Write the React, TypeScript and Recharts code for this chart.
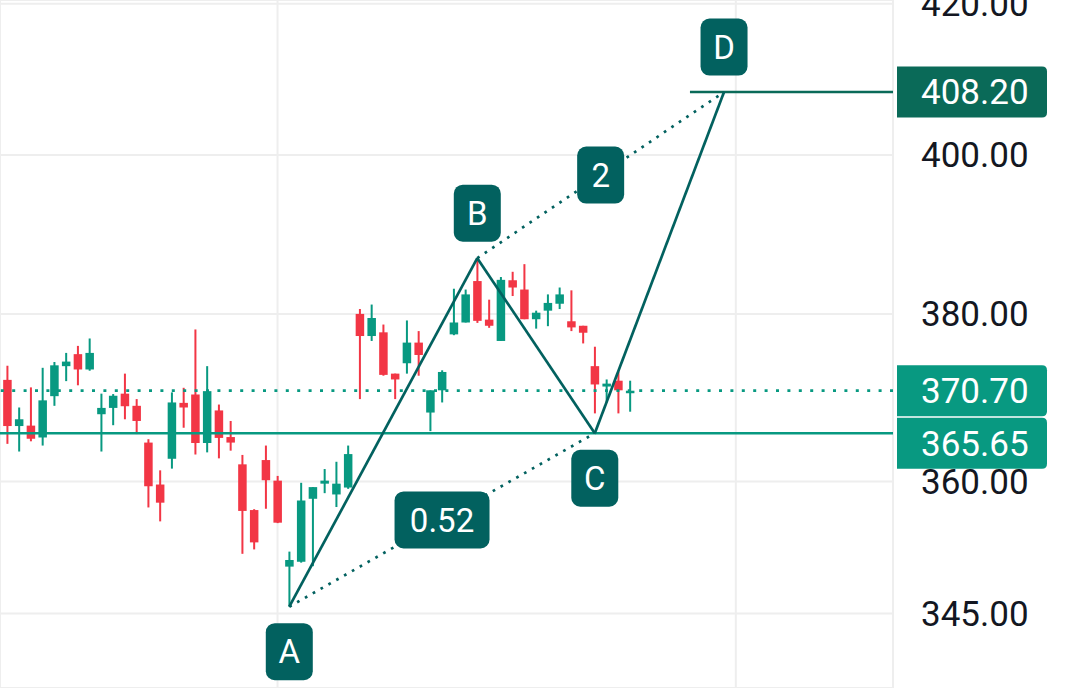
import React from 'react';
import { ComposedChart, Bar, XAxis, YAxis, CartesianGrid, ReferenceLine, ReferenceDot } from 'recharts';

// OHLC values per candle (index 0..53)
const opens = [
  372.0, 366.5, 366.55, 365.15, 370.05, 373.65, 375.1, 373.25, 367.9, 368.65,
  370.35, 368.9, 364.55, 359.65, 362.65, 369.25, 370.25, 364.5, 368.35, 365.2,
  362.0, 356.7, 362.5, 360.1, 350.25, 350.8, 358.0, 359.75, 358.5, 359.3,
  380.0, 377.3, 377.75, 372.75, 374.0, 376.5, 368.1, 370.75, 377.5, 378.95,
  384.05, 379.3, 376.7, 384.15, 383.0, 379.35, 380.4, 381.25, 379.1, 378.55,
  373.65, 371.2, 371.9, 370.55,
];
const highs = [
  373.7, 368.7, 371.1, 373.45, 374.15, 375.25, 376.1, 377.0, 370.35, 370.3,
  372.75, 369.7, 364.95, 361.3, 370.5, 371.05, 378.1, 373.65, 369.05, 367.1,
  363.1, 356.8, 364.2, 360.65, 351.95, 359.85, 359.35, 361.45, 362.3, 364.2,
  380.6, 381.15, 378.7, 372.75, 379.2, 377.9, 370.75, 373.15, 383.1, 383.0,
  386.9, 381.75, 384.55, 385.2, 386.15, 380.4, 382.4, 383.25, 382.9, 378.55,
  376.0, 372.05, 373.0, 371.9,
];
const lows = [
  364.4, 363.5, 364.7, 364.2, 368.9, 371.85, 371.35, 373.1, 363.5, 366.6,
  367.3, 365.55, 357.0, 355.4, 361.5, 366.3, 363.15, 363.4, 362.7, 363.6,
  351.7, 352.2, 356.85, 355.2, 345.75, 350.7, 350.3, 358.65, 357.05, 359.15,
  369.7, 376.7, 372.5, 369.7, 372.75, 372.5, 365.9, 369.3, 377.4, 378.95,
  378.9, 378.3, 376.7, 382.2, 379.35, 378.2, 378.5, 380.6, 377.9, 376.4,
  368.0, 369.3, 368.0, 368.2,
];
const closes = [
  366.5, 367.3, 365.0, 369.55, 373.75, 374.2, 373.25, 375.25, 368.65, 370.1,
  368.85, 367.1, 359.45, 357.55, 369.3, 368.7, 364.5, 370.65, 365.1, 364.55,
  356.6, 353.0, 360.15, 355.25, 351.0, 357.8, 359.35, 360.1, 359.75, 363.2,
  377.3, 379.5, 372.6, 372.05, 376.5, 375.0, 370.75, 372.95, 378.95, 382.4,
  379.15, 378.55, 384.2, 383.25, 379.35, 380.15, 381.35, 382.4, 378.35, 377.7,
  371.45, 371.55, 370.75, 370.7,
];

// ABCD pattern
const patternLabels = ['A', 'B', 'C', 'D'];
const patternIndex = [24, 40, 50, 61];
const patternPrice = [345.75, 386.9, 365.65, 408.2];
const ratioLabels = ['0.52', '2'];

const yTicks = [345, 360, 380, 400, 420];
const gridIndex = [23, 62];
const lastPrice = 370.7;
const cLevel = 365.65;
const dLevel = 408.2;
const dLevelStart = 58.1;

const UP = '#089981';
const DOWN = '#F23645';
const PAT = '#02615F';
const DCOL = '#0A6A58';
const FONT = 'Roboto';
const FS = 33;
const AXFS = 35;

const data = opens.map((o, i) => ({
  i,
  open: o,
  high: highs[i],
  low: lows[i],
  close: closes[i],
  range: [lows[i], highs[i]],
}));

const Candle = (props: any) => {
  const { x, y, width, height, payload } = props;
  if (x == null || y == null || payload == null) return null;
  const { open, close, high, low } = payload;
  const top = Math.min(y, y + height);
  const h = Math.abs(height);
  const lh = Math.log(high);
  const ll = Math.log(low);
  const py = (p: number) => top + (h * (lh - Math.log(p))) / (lh - ll || 1);
  const color = close >= open ? UP : DOWN;
  const cx = x + width / 2;
  const bTop = py(Math.max(open, close));
  const bBot = py(Math.min(open, close));
  const bw = 8.5;
  return (
    <g>
      <rect x={cx - 1} y={top} width={2} height={Math.max(h, 1)} fill={color} />
      <rect x={cx - bw / 2} y={bTop} width={bw} height={Math.max(bBot - bTop, 2.5)} fill={color} />
    </g>
  );
};

const boxShape = (label: string, dir: number) => (props: any) => {
  const { cx, cy } = props;
  if (cx == null || cy == null) return null;
  const w = Math.max(47, 17 + 19.5 * label.length);
  const h = 57;
  const bcy = cy + dir * 45;
  return (
    <g>
      <rect x={cx - w / 2} y={bcy - h / 2} width={w} height={h} rx={9} ry={9} fill={PAT} />
      <text x={cx} y={bcy} dy="0.355em" textAnchor="middle" fill="#ffffff" fontSize={FS} fontFamily={FONT}>
        {label}
      </text>
    </g>
  );
};

const ratioShape = (label: string) => boxShape(label, 0);

const priceTag = (text: string, color: string, shift: number) => (props: any) => {
  const vb = props.viewBox || {};
  const x0 = (vb.x ?? 0) + (vb.width ?? 0) + 4;
  const cy = (vb.y ?? 0) + shift;
  const w = 150;
  const h = 51;
  const r = 5;
  const t = cy - h / 2;
  const d = `M${x0},${t} H${x0 + w - r} Q${x0 + w},${t} ${x0 + w},${t + r} V${t + h - r} Q${x0 + w},${t + h} ${x0 + w - r},${t + h} H${x0} Z`;
  return (
    <g>
      <path d={d} fill={color} />
      <text x={x0 + 24} y={cy} dy="0.355em" fill="#ffffff" fontSize={AXFS} fontFamily={FONT}>
        {text}
      </text>
    </g>
  );
};

const seg = (a: number, b: number) => [
  { x: patternIndex[a], y: patternPrice[a] },
  { x: patternIndex[b], y: patternPrice[b] },
];

const mid = (a: number, b: number) => ({
  x: (patternIndex[a] + patternIndex[b]) / 2,
  y: Math.sqrt(patternPrice[a] * patternPrice[b]),
});

export default function App() {
  const mAC = mid(0, 2);
  const mBD = mid(1, 3);
  return (
    <div style={{ position: 'absolute', left: 0, top: 0, background: '#fff' }}>
      <ComposedChart
        width={1080}
        height={688}
        data={data}
        margin={{ top: 0, right: 0, bottom: 0, left: 0 }}
        style={{ fontFamily: FONT }}
      >
        <CartesianGrid stroke="#EEEEEE" strokeWidth={2} />
        <XAxis dataKey="i" type="number" domain={[-0.621, 75.38]} allowDataOverflow ticks={gridIndex} hide />
        <YAxis
          orientation="right"
          scale="log"
          type="number"
          domain={[336.8, 420.5]}
          allowDataOverflow
          ticks={yTicks}
          interval={0}
          tickFormatter={(v: number) => v.toFixed(2)}
          width={187}
          axisLine={false}
          tickLine={false}
          tickMargin={22}
          tick={{ fontSize: AXFS, fill: '#131722', fontFamily: FONT }}
        />
        <Bar dataKey="range" barSize={8} shape={<Candle />} isAnimationActive={false} />
        <ReferenceLine
          y={lastPrice}
          stroke={UP}
          strokeWidth={2.7}
          strokeDasharray="3 8.4"
          label={priceTag(lastPrice.toFixed(2), UP, 0)}
        />
        <ReferenceLine y={cLevel} stroke={UP} strokeWidth={2.7} label={priceTag(cLevel.toFixed(2), UP, 10)} />
        <ReferenceLine
          segment={[{ x: dLevelStart, y: dLevel }, { x: 75.38, y: dLevel }]}
          stroke={DCOL}
          strokeWidth={2.5}
          label={priceTag(dLevel.toFixed(2), DCOL, 0)}
        />
        <ReferenceLine segment={seg(0, 2)} stroke={PAT} strokeWidth={2.7} strokeDasharray="2.7 6.3" />
        <ReferenceLine segment={seg(1, 3)} stroke={PAT} strokeWidth={2.7} strokeDasharray="2.7 6.3" />
        <ReferenceLine segment={seg(0, 1)} stroke={PAT} strokeWidth={2.7} />
        <ReferenceLine segment={seg(1, 2)} stroke={PAT} strokeWidth={2.7} />
        <ReferenceLine segment={seg(2, 3)} stroke={PAT} strokeWidth={2.7} />
        <ReferenceDot x={mAC.x} y={mAC.y} r={0} shape={ratioShape(ratioLabels[0])} />
        <ReferenceDot x={mBD.x} y={mBD.y} r={0} shape={ratioShape(ratioLabels[1])} />
        {patternLabels.map((lab, k) => (
          <ReferenceDot
            key={lab}
            x={patternIndex[k]}
            y={patternPrice[k]}
            r={0}
            shape={boxShape(lab, k % 2 === 0 ? 1 : -1)}
          />
        ))}
      </ComposedChart>
    </div>
  );
}
